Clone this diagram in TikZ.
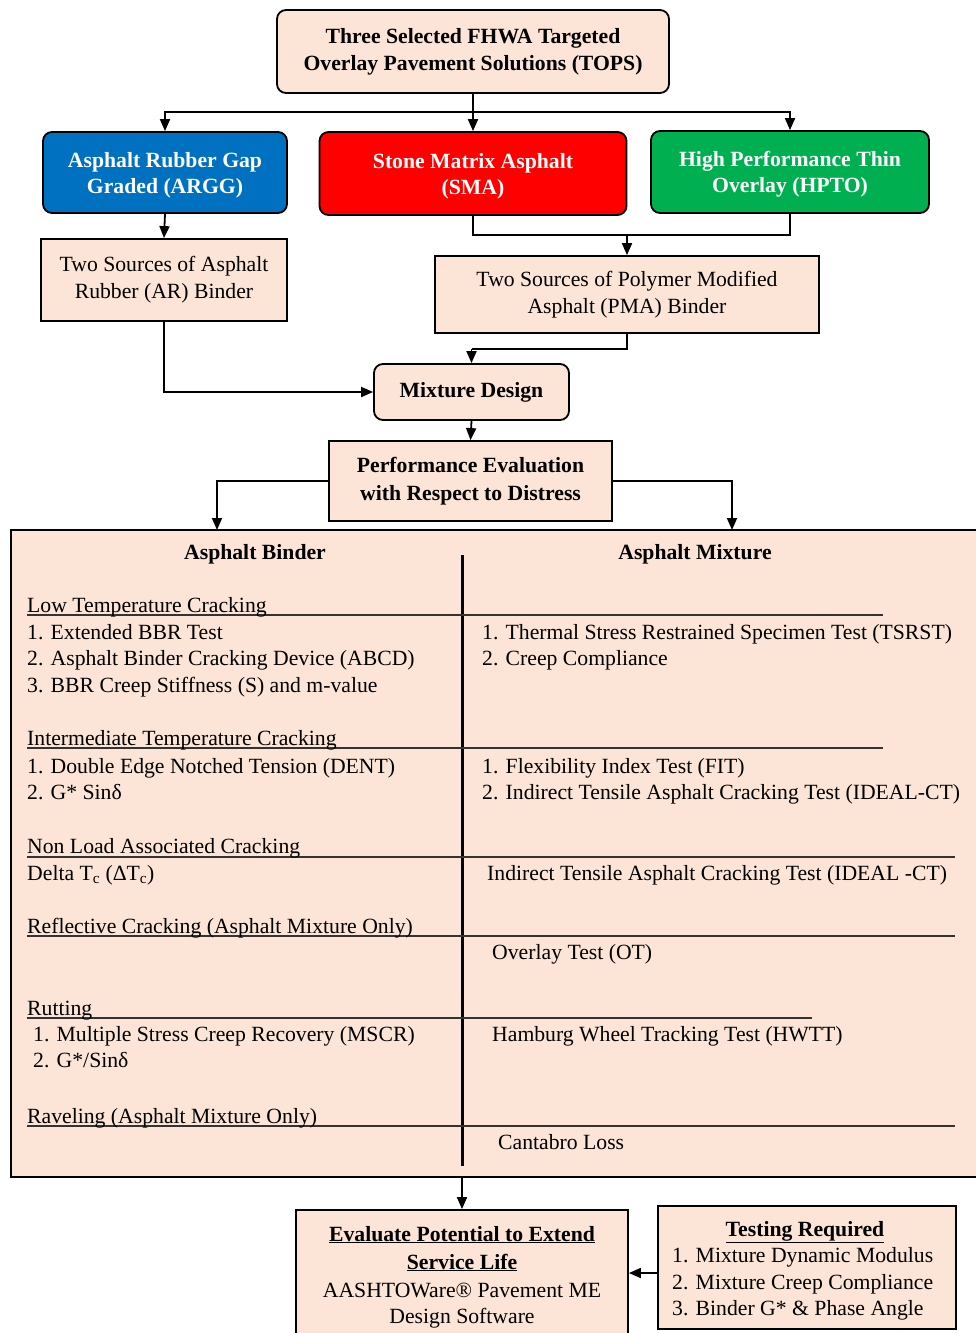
\documentclass[tikz,border=0pt]{standalone}
\usepackage{fontspec}
\setmainfont{Liberation Serif}
\usetikzlibrary{arrows.meta}
\definecolor{peach}{HTML}{FCE4D6}
\definecolor{bblue}{HTML}{0070C0}
\definecolor{bred}{HTML}{FF0000}
\definecolor{bgreen}{HTML}{00B050}
\tikzset{
  boxbase/.style={draw=black, line width=1.8pt, align=center, inner sep=0pt, font=\fontsize{21.7}{27}\selectfont},
  pbox/.style={boxbase, fill=peach},
  rpbox/.style={pbox, rounded corners=9pt},
  cbox/.style={boxbase, rounded corners=9pt, text=white, text depth=-2pt, font=\fontsize{21.7}{26}\selectfont\bfseries},
  arr/.style={line width=1.8pt, -{Triangle[length=12pt,width=10pt]}},
  ln/.style={line width=1.8pt},
  sep/.style={line width=1.3pt, draw=black!80},
  txt/.style={anchor=base west, inner sep=0pt, font=\fontsize{21.7}{27}\selectfont},
  hdr/.style={anchor=base, inner sep=0pt, font=\fontsize{21.7}{27}\selectfont\bfseries},
}
\begin{document}
\begin{tikzpicture}[x=1pt,y=-1pt]
\fill[white] (0,0) rectangle (976,1333);
\useasboundingbox (0,0) rectangle (976,1333);

% top part
\node[rpbox, minimum width=392pt, minimum height=83pt, font=\fontsize{21.7}{27}\selectfont\bfseries] (top) at (473,51.5) {Three Selected FHWA Targeted\\Overlay Pavement Solutions (TOPS)};
\node[cbox, fill=bblue, minimum width=244pt, minimum height=81pt] (argg) at (165,172.5) {Asphalt Rubber Gap\\Graded (ARGG)};
\node[cbox, fill=bred, minimum width=307pt, minimum height=83pt] (sma) at (473,173.5) {Stone Matrix Asphalt\\(SMA)};
\node[cbox, fill=bgreen, minimum width=278pt, minimum height=82pt] (hpto) at (790,172) {High Performance Thin\\Overlay (HPTO)};
\node[pbox, minimum width=246pt, minimum height=82pt] (ar) at (164,280) {Two Sources of Asphalt\\Rubber (AR) Binder};
\node[pbox, minimum width=384pt, minimum height=77pt] (pma) at (627,294.5) {Two Sources of Polymer Modified\\Asphalt (PMA) Binder};
\node[rpbox, minimum width=195pt, minimum height=56pt, font=\fontsize{21.7}{27}\selectfont\bfseries] (mix) at (471.5,392) {Mixture Design};
\node[pbox, minimum width=283pt, minimum height=80pt, font=\fontsize{21.7}{28}\selectfont\bfseries] (perf) at (470.5,481) {Performance Evaluation\\with Respect to Distress};

\coordinate (j1) at (473,112);
\draw[arr] (top.south) -- (sma.north);
\draw[arr] (j1) -| (argg.north);
\draw[arr] (j1) -| (hpto.north);
\draw[arr] (argg.south) -- (ar.north);
\coordinate (j2) at (627,235);
\draw[ln] (sma.south) |- (j2) -| (hpto.south);
\draw[arr] (j2) -- (pma.north);
\draw[arr] (ar.south) |- (mix.west);
\coordinate (j3) at (471.5,349);
\draw[ln] (pma.south) |- (j3);
\draw[arr] (j3) -- (mix.north);
\draw[arr] (mix.south) -- (perf.north);

% big box (its right side runs past the picture's edge)
\fill[peach] (11,530) rectangle (976,1177);
\draw[line width=1.8pt] (976,530) -- (11,530) -- (11,1177) -- (976,1177);
\coordinate (bl) at (217,530);
\coordinate (br) at (732,530);
\draw[arr] (perf.west) -| (bl);
\draw[arr] (perf.east) -| (br);

\node[hdr] (hb) at (255,559) {Asphalt Binder};
\node[hdr] (hm) at (695,559) {Asphalt Mixture};
\coordinate (dv1) at (462,555);
\coordinate (dv2) at (462,1166);
\draw[line width=3pt] (dv1) -- (dv2);

% section lines
\coordinate (s1a) at (27,615); \coordinate (s1b) at (883,615);
\coordinate (s2a) at (27,748); \coordinate (s2b) at (883,748);
\coordinate (s3a) at (27,857); \coordinate (s3b) at (955,857);
\coordinate (s4a) at (27,936); \coordinate (s4b) at (955,936);
\coordinate (s5a) at (27,1018); \coordinate (s5b) at (812,1018);
\coordinate (s6a) at (27,1126); \coordinate (s6b) at (955,1126);
\draw[sep] (s1a) -- (s1b);
\draw[sep] (s2a) -- (s2b);
\draw[sep] (s3a) -- (s3b);
\draw[sep] (s4a) -- (s4b);
\draw[sep] (s5a) -- (s5b);
\draw[sep] (s6a) -- (s6b);

% Low temperature
\node[txt] (h1) at (27,612) {Low Temperature Cracking};
\node[txt] (l11) at (27,639) {1. Extended BBR Test};
\node[txt] (l12) at (27,665) {2. Asphalt Binder Cracking Device (ABCD)};
\node[txt] (l13) at (27,692) {3. BBR Creep Stiffness (S) and m-value};
\node[txt] (r11) at (482,639) {1. Thermal Stress Restrained Specimen Test (TSRST)};
\node[txt] (r12) at (482,665) {2. Creep Compliance};
% Intermediate
\node[txt] (h2) at (27,745) {Intermediate Temperature Cracking};
\node[txt] (l21) at (27,773) {1. Double Edge Notched Tension (DENT)};
\node[txt] (l22) at (27,799) {2. G* Sinδ};
\node[txt] (r21) at (482,773) {1. Flexibility Index Test (FIT)};
\node[txt] (r22) at (482,799) {2. Indirect Tensile Asphalt Cracking Test (IDEAL-CT)};
% Non load
\node[txt] (h3) at (27,853) {Non Load Associated Cracking};
\node[txt] (l31) at (27,880) {Delta T\textsubscript{c} (ΔT\textsubscript{c})};
\node[txt] (r31) at (487,880) {Indirect Tensile Asphalt Cracking Test (IDEAL -CT)};
% Reflective
\node[txt] (h4) at (27,933) {Reflective Cracking (Asphalt Mixture Only)};
\node[txt] (r41) at (492,959) {Overlay Test (OT)};
% Rutting
\node[txt] (h5) at (27,1015) {Rutting};
\node[txt] (l51) at (33,1041) {1. Multiple Stress Creep Recovery (MSCR)};
\node[txt] (l52) at (33,1067) {2. G*/Sinδ};
\node[txt] (r51) at (492,1041) {Hamburg Wheel Tracking Test (HWTT)};
% Raveling
\node[txt] (h6) at (27,1123) {Raveling (Asphalt Mixture Only)};
\node[txt] (r61) at (498,1149) {Cantabro Loss};

% bottom boxes
\begin{scope}
\clip (0,0) rectangle (976,1333);
\node[pbox, minimum width=332pt, minimum height=135pt] (eval) at (462,1277.5) {};
\end{scope}
\node[hdr] (e1) at (462,1241) {\underline{Evaluate Potential to Extend}};
\node[hdr] (e2) at (462,1269) {\underline{Service Life}};
\node[hdr, font=\fontsize{21.7}{27}\selectfont] (e3) at (462,1297) {AASHTOWare® Pavement ME};
\node[hdr, font=\fontsize{21.7}{27}\selectfont] (e4) at (462,1323) {Design Software};

\node[pbox, minimum width=298pt, minimum height=123pt] (test) at (807,1267.5) {};
\node[hdr] (t0) at (805,1236) {\underline{Testing Required}};
\node[txt] (t1) at (672,1262) {1. Mixture Dynamic Modulus};
\node[txt] (t2) at (672,1289) {2. Mixture Creep Compliance};
\node[txt] (t3) at (672,1315) {3. Binder G* \& Phase Angle};

\coordinate (bb) at (462,1177);
\draw[arr] (bb) -- (eval.north);
\coordinate (j4) at (0,1273);
\draw[arr] (test.west |- j4) -- (eval.east |- j4);
\end{tikzpicture}
\end{document}
